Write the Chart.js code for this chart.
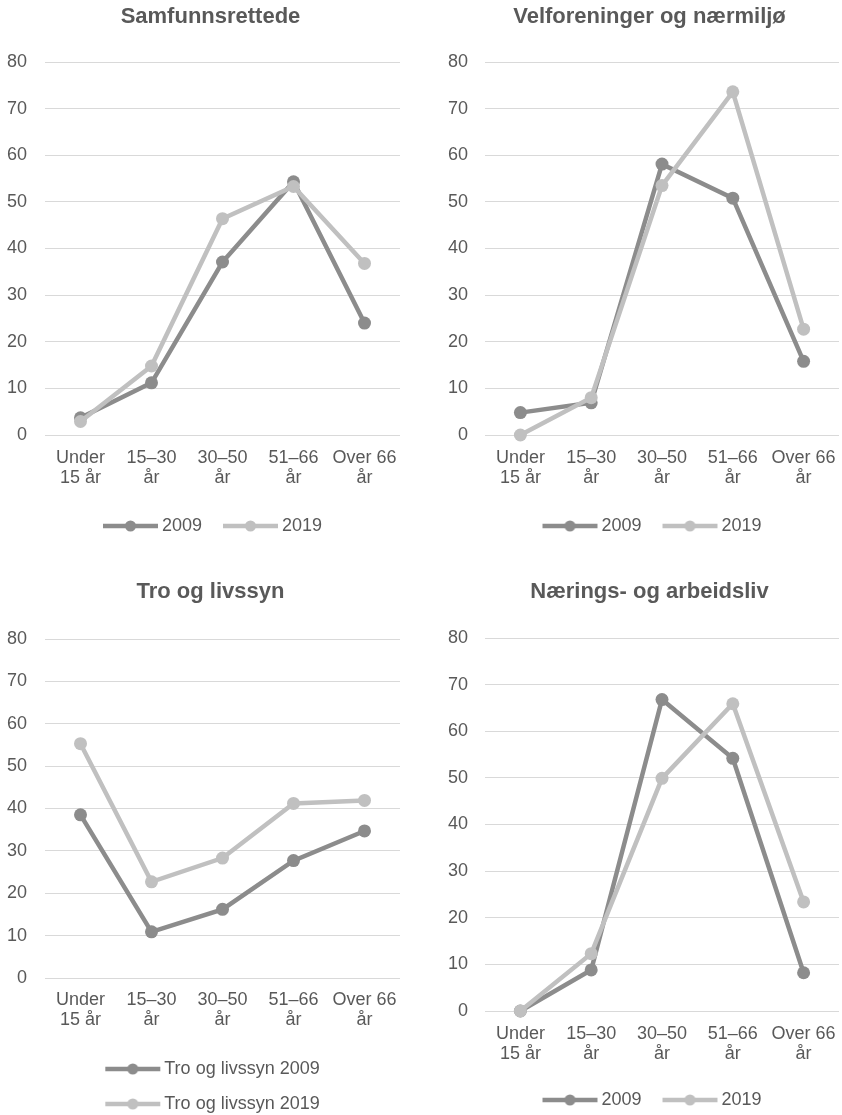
<!DOCTYPE html>
<html><head><meta charset="utf-8">
<script src="https://cdn.jsdelivr.net/npm/chart.js@4.4.1/dist/chart.umd.min.js"></script>
<style>
html,body{margin:0;padding:0;background:#fff;overflow:hidden;width:842px;height:1115px;position:relative}
canvas{position:absolute}
</style></head><body>
<canvas id="c1"></canvas><canvas id="c2"></canvas><canvas id="c3"></canvas><canvas id="c4"></canvas>
<script>
// ---- data ----
const categories = [["Under","15 år"],["15–30","år"],["30–50","år"],["51–66","år"],["Over 66","år"]];
const legend2009 = "2009";
const legend2019 = "2019";
const legendTro2009 = "Tro og livssyn 2009";
const legendTro2019 = "Tro og livssyn 2019";
const titles = ["Samfunnsrettede","Velforeninger og nærmiljø","Tro og livssyn","Nærings- og arbeidsliv"];
const samfunn2009 = [3.7, 11.2, 37.1, 54.3, 24.0];
const samfunn2019 = [2.9, 14.8, 46.4, 53.3, 36.8];
const velforening2009 = [4.8, 6.9, 58.1, 50.8, 15.8];
const velforening2019 = [0, 8.0, 53.5, 73.6, 22.7];
const tro2009 = [38.5, 10.9, 16.2, 27.7, 34.7];
const tro2019 = [55.3, 22.7, 28.3, 41.2, 41.9];
const naering2009 = [0, 8.8, 66.8, 54.2, 8.2];
const naering2019 = [0, 12.3, 49.9, 65.9, 23.4];
const yMin = 0, yMax = 80, yStep = 10;

// ---- style ----
const DARK = '#8c8c8c', LIGHT = '#c0c0c0', TEXT = '#595959', GRID = '#d9d9d9';
const FONT = "'Liberation Sans', Arial, sans-serif";
const FS = 18, TITLE_FS = 22, LH = 1.1;

function marker(color){
  const c = document.createElement('canvas');
  c.width = 72; c.height = 14;
  const g = c.getContext('2d');
  g.strokeStyle = color; g.lineWidth = 4.5;
  g.beginPath(); g.moveTo(1,7); g.lineTo(56,7); g.stroke();
  g.fillStyle = color; g.beginPath(); g.arc(28.5,7,5.5,0,Math.PI*2); g.fill();
  return c;
}

const geo = {
  c1:{left:0,top:0,W:421,shift:0,titleY:17,chartTop:62,chartBottom:435,chartLeft:45,chartRight:400,yPad:18,xLine1:458,xH:58,legendPad:41,rows:1,legendRow1:526},
  c2:{left:421,top:0,W:425,shift:32,titleY:17,chartTop:62,chartBottom:435,chartLeft:64,chartRight:418,yPad:17,xLine1:458,xH:58,legendPad:41,rows:1,legendRow1:526},
  c3:{left:0,top:555,W:421,shift:0,titleY:37,chartTop:84,chartBottom:423,chartLeft:45,chartRight:400,yPad:18,xLine1:445,xH:65,legendPad:17,rows:2,legendRow1:514},
  c4:{left:421,top:555,W:425,shift:32,titleY:37,chartTop:83,chartBottom:456,chartLeft:64,chartRight:418,yPad:17,xLine1:479,xH:58,legendPad:41,rows:1,legendRow1:545}
};

function make(id, title, names, d1, d2){
  const g = geo[id];
  const legendTop = g.chartBottom + g.xH;
  const th = g.legendRow1 - legendTop - g.legendPad - FS/2;
  const legendH = th + g.rows*(FS + g.legendPad) + 10;
  const H = Math.ceil(legendTop + legendH);
  const cv = document.getElementById(id);
  cv.width = g.W; cv.height = H;
  cv.style.left = g.left+'px'; cv.style.top = g.top+'px';
  cv.style.width = g.W+'px'; cv.style.height = H+'px';
  const tPadTop = g.titleY - TITLE_FS*1.2/2;
  const tPadBottom = g.chartTop - tPadTop - TITLE_FS*1.2;
  const xTick = g.xLine1 - g.chartBottom - FS*LH/2;
  const ds = (label, data, color, order) => ({
    label, data, borderColor: color, backgroundColor: color,
    borderWidth: 4.5, pointRadius: 6.5, pointHoverRadius: 6.5,
    pointBackgroundColor: color, pointBorderColor: color, pointBorderWidth: 0,
    tension: 0, order, clip: false
  });
  return new Chart(cv, {
    type: 'line',
    data: { labels: categories, datasets: [ds(names[0], d1, DARK, 2), ds(names[1], d2, LIGHT, 1)] },
    options: {
      responsive: false, animation: false, devicePixelRatio: 1,
      layout: { padding: { top: 0, left: 0, bottom: H - legendTop - legendH, right: -g.shift } },
      plugins: {
        tooltip: { enabled: false },
        title: { display: true, text: title, color: TEXT,
          font: { family: FONT, size: TITLE_FS, weight: 'bold', lineHeight: 1.2 },
          padding: { top: tPadTop, bottom: tPadBottom } },
        legend: { display: true, position: 'bottom', fullSize: false,
          title: { display: true, text: '', font: { size: 1, lineHeight: 1 }, padding: { top: th - 1, bottom: 0 } },
          labels: { color: TEXT, font: { family: FONT, size: FS }, padding: g.legendPad,
            usePointStyle: true, pointStyleWidth: 30,
            generateLabels: (chart) => chart.data.datasets.map((d, i) => ({
              text: d.label, pointStyle: marker(d.borderColor), fillStyle: d.borderColor,
              strokeStyle: d.borderColor, lineWidth: 0, hidden: false, datasetIndex: i, fontColor: TEXT
            })) } }
      },
      scales: {
        x: { type: 'category', offset: true,
          grid: { display: false, drawTicks: true, tickLength: xTick }, border: { display: false },
          ticks: { color: TEXT, font: { family: FONT, size: FS, lineHeight: LH }, padding: 0, maxRotation: 0, autoSkip: false },
          afterFit: s => { s.height = g.xH; s.paddingLeft = 0; s.paddingRight = 0;
            s.getPadding = () => ({ left: 0, top: 0, right: 0, bottom: 0 }); } },
        y: { type: 'linear', position: 'left', min: yMin, max: yMax,
          grid: { color: GRID, lineWidth: 1, drawTicks: false }, border: { display: false },
          ticks: { stepSize: yStep, color: TEXT, font: { family: FONT, size: FS }, padding: g.yPad },
          afterFit: s => { s.width = g.chartLeft; } },
        yR: { type: 'linear', position: 'right', display: true,
          grid: { display: false, drawTicks: false }, border: { display: false }, ticks: { display: false },
          afterFit: s => { s.width = g.W - g.chartRight + g.shift; s.paddingTop = 0; s.paddingBottom = 0; } }
      }
    }
  });
}

make('c1', titles[0], [legend2009, legend2019], samfunn2009, samfunn2019);
make('c2', titles[1], [legend2009, legend2019], velforening2009, velforening2019);
make('c3', titles[2], [legendTro2009, legendTro2019], tro2009, tro2019);
make('c4', titles[3], [legend2009, legend2019], naering2009, naering2019);
</script>
</body></html>
